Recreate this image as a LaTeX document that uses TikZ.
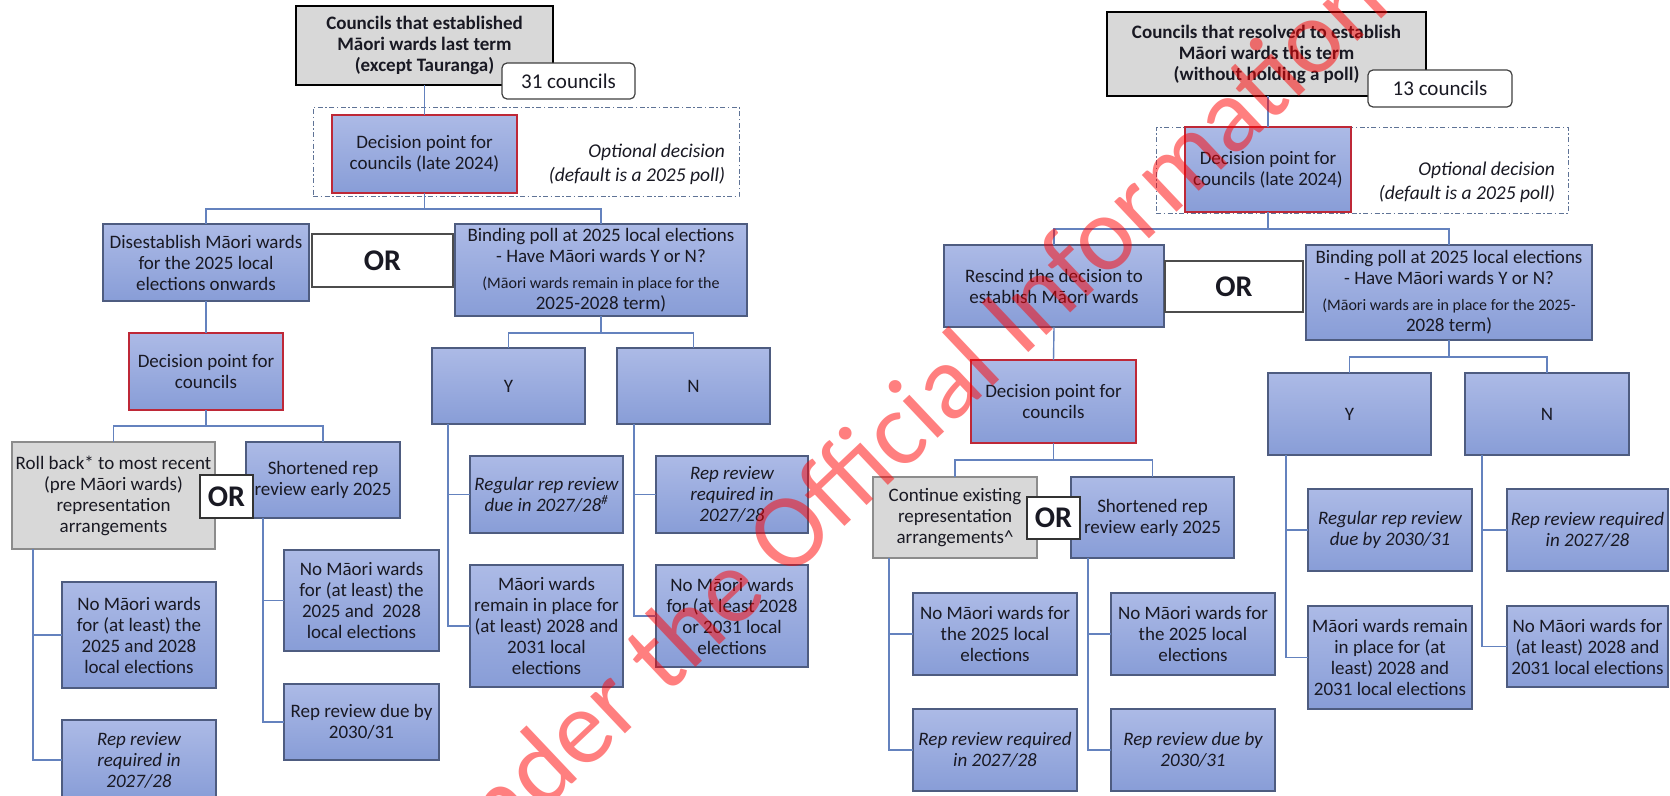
\documentclass[tikz,border=0pt]{standalone}
\usepackage{fontspec}
\setmainfont{Carlito}
\definecolor{btop}{RGB}{172,186,230}
\definecolor{bbot}{RGB}{136,157,215}
\definecolor{bborder}{RGB}{78,92,128}
\definecolor{dred}{RGB}{190,40,55}
\definecolor{gfill}{RGB}{216,216,216}
\definecolor{gborder}{RGB}{140,140,140}
\definecolor{conncol}{RGB}{100,130,190}
\definecolor{txt}{RGB}{25,25,35}
\definecolor{dashcol}{RGB}{95,115,150}
\newcommand\BX[7]{\node[#2, minimum width={#5-#3}, minimum height={#6-#4}] (#1) at ({(#3+#5)/2},{-(#4+#6)/2}) {#7};}
\begin{document}
\begin{tikzpicture}[x=1pt,y=1pt,
  base/.style={inner xsep=1pt, inner ysep=1pt, outer sep=0pt, align=center, text=txt, font=\fontsize{19}{21}\selectfont},
  bluebox/.style={base, draw=bborder, line width=1.2pt, top color=btop, bottom color=bbot},
  itbox/.style={bluebox, font=\fontsize{19}{21}\selectfont\itshape},
  decbox/.style={bluebox, draw=dred, line width=1.8pt},
  graybox/.style={base, draw=gborder, line width=1.2pt, fill=gfill},
  topbox/.style={base, draw=black, line width=2.6pt, fill=gfill, font=\fontsize{19}{21}\selectfont\bfseries},
  countbox/.style={base, draw=black!75, line width=1.2pt, fill=white, rounded corners=5pt, font=\fontsize{21}{24}\selectfont},
  orbox/.style={base, draw=black!70, line width=1.4pt, fill=white, font=\fontsize{30}{32}\selectfont\bfseries},
  orsmall/.style={orbox, draw=black!80, line width=1.2pt, inner sep=0pt},
  optbox/.style={draw=dashcol, line width=1pt, inner sep=0pt, outer sep=0pt, dash pattern=on 5pt off 2.5pt on 1.5pt off 2.5pt},
  opttext/.style={base, align=right, font=\fontsize{19.5}{24.5}\selectfont\itshape},
  conn/.style={draw=conncol, line width=1.4pt},
  wm/.style={text=red, text opacity=0.5, inner sep=0pt, outer sep=0pt, font=\fontsize{106}{106}\selectfont}
]
\useasboundingbox (0,0) rectangle (1670,-795);
\clip (0,0) rectangle (1670,-795);
\fill[white] (0,0) rectangle (1670,-795);

% ---------------- LEFT TREE ----------------
\BX{opt1}{optbox}{313}{107}{739}{196}{}
\BX{top1}{topbox}{296}{6}{553}{85}{Councils that established\\Māori wards last term\\(except Tauranga)}
\BX{cnt1}{countbox}{502}{63}{635}{99}{31 councils}
\BX{dp1}{decbox}{332}{115}{517}{193}{Decision point for\\councils (late 2024)}
\node[opttext, anchor=east] (ot1) at (726,-164.5) {Optional decision\\(default is a 2025 poll)};
\BX{dis}{bluebox}{103}{224}{309}{301}{Disestablish Māori wards\\for the 2025 local\\elections onwards}
\BX{or1}{orbox}{312}{234}{453}{287}{OR}
\BX{bind1}{bluebox}{455}{224}{747}{316}{Binding poll at 2025 local elections\\- Have Māori wards Y or N?\\[5pt]\fontsize{16}{17.5}\selectfont (Māori wards remain in place for the\\2025-2028 term)}
\BX{dp2}{decbox}{129}{333}{283}{410}{Decision point for\\councils}
\BX{y1}{bluebox}{432}{348}{585}{424}{Y}
\BX{n1}{bluebox}{617}{348}{770}{424}{N}
\BX{rb}{graybox}{12}{442}{215}{549}{Roll back* to most recent\\(pre Māori wards)\\representation\\arrangements}
\BX{sr1}{bluebox}{246}{442}{400}{518}{Shortened rep\\review early 2025}
\BX{ors1}{orsmall}{200}{475}{253}{518}{OR}
\BX{nm1}{bluebox}{62}{582}{216}{688}{No Māori wards\\for (at least) the\\2025 and 2028\\local elections}
\BX{rr1}{itbox}{62}{720}{216}{800}{Rep review\\required in\\2027/28}
\BX{nm2}{bluebox}{284}{550}{439}{651}{No Māori wards\\for (at least) the\\2025 and \ 2028\\local elections}
\BX{rd1}{bluebox}{284}{684}{439}{760}{Rep review due by\\2030/31}
\BX{yr1}{itbox}{470}{456}{623}{533}{Regular rep review\\due in 2027/28\textsuperscript{\#}}
\BX{ym1}{bluebox}{470}{565}{623}{687}{Māori wards\\remain in place for\\(at least) 2028 and\\2031 local\\elections}
\BX{nr1}{itbox}{656}{456}{808}{533}{Rep review\\required in\\2027/28}
\BX{nn1}{bluebox}{656}{565}{808}{667}{No Māori wards\\for (at least 2028\\or 2031 local\\elections}

\draw[conn] (top1.south) -- (dp1.north);
\draw[conn] (dp1.south) -- ++(0,-16) -| (dis.north);
\draw[conn] (dp1.south) -- ++(0,-16) -| (bind1.north);
\draw[conn] (bind1.south) -- ++(0,-17) -| (y1.north);
\draw[conn] (bind1.south) -- ++(0,-17) -| (n1.north);
\draw[conn] (dis.south) -- (dp2.north);
\draw[conn] (dp2.south) -- ++(0,-16) -| (rb.north);
\draw[conn] (dp2.south) -- ++(0,-16) -| (sr1.north);
\draw[conn] ([xshift=21pt]rb.south west) |- (nm1.west);
\draw[conn] ([xshift=21pt]rb.south west) |- (rr1.west);
\draw[conn] ([xshift=17pt]sr1.south west) |- (nm2.west);
\draw[conn] ([xshift=17pt]sr1.south west) |- (rd1.west);
\draw[conn] ([xshift=16pt]y1.south west) |- (yr1.west);
\draw[conn] ([xshift=16pt]y1.south west) |- (ym1.west);
\draw[conn] ([xshift=17pt]n1.south west) |- (nr1.west);
\draw[conn] ([xshift=17pt]n1.south west) |- (nn1.west);

% ---------------- RIGHT TREE ----------------
\BX{opt2}{optbox}{1156}{127}{1568}{213}{}
\BX{top2}{topbox}{1107}{12}{1426}{96}{Councils that resolved to establish\\Māori wards this term\\(without holding a poll)}
\BX{cnt2}{countbox}{1368}{70}{1512}{107}{13 councils}
\BX{dp3}{decbox}{1185}{127}{1351}{212}{Decision point for\\councils (late 2024)}
\node[opttext, anchor=east] (ot2) at (1556,-182.5) {Optional decision\\(default is a 2025 poll)};
\BX{res}{bluebox}{944}{245}{1164}{327}{Rescind the decision to\\establish Māori wards}
\BX{or2}{orbox}{1165}{261}{1303}{312}{OR}
\BX{bind2}{bluebox}{1306}{245}{1592}{340}{Binding poll at 2025 local elections\\- Have Māori wards Y or N?\\[5pt]\fontsize{16}{17.5}\selectfont (Māori wards are in place for the 2025-\\2028 term)}
\BX{dp4}{decbox}{971}{360}{1136}{443}{Decision point for\\councils}
\BX{y2}{bluebox}{1268}{373}{1431}{455}{Y}
\BX{n2}{bluebox}{1465}{373}{1629}{455}{N}
\BX{ce}{graybox}{873}{477}{1037}{558}{Continue existing\\representation\\arrangements\textasciicircum}
\BX{sr2}{bluebox}{1071}{477}{1234}{558}{Shortened rep\\review early 2025}
\BX{ors2}{orsmall}{1027}{497}{1080}{539}{OR}
\BX{nm3}{bluebox}{913}{593}{1077}{675}{No Māori wards for\\the 2025 local\\elections}
\BX{rr2}{itbox}{913}{709}{1077}{791}{Rep review required\\in 2027/28}
\BX{nm4}{bluebox}{1111}{593}{1275}{675}{No Māori wards for\\the 2025 local\\elections}
\BX{rd2}{itbox}{1111}{709}{1275}{791}{Rep review due by\\2030/31}
\BX{yr2}{itbox}{1308}{489}{1472}{571}{Regular rep review\\due by 2030/31}
\BX{ym2}{bluebox}{1308}{606}{1472}{709}{Māori wards remain\\in place for (at\\least) 2028 and\\2031 local elections}
\BX{nr2}{itbox}{1507}{489}{1668}{571}{Rep review required\\in 2027/28}
\BX{nn2}{bluebox}{1507}{606}{1668}{687}{No Māori wards for\\(at least) 2028 and\\2031 local elections}

\draw[conn] (top2.south -| dp3.north) -- (dp3.north);
\draw[conn] (dp3.south) -- ++(0,-17) -| (res.north);
\draw[conn] (dp3.south) -- ++(0,-17) -| (bind2.north);
\draw[conn] (bind2.south) -- ++(0,-17) -| (y2.north);
\draw[conn] (bind2.south) -- ++(0,-17) -| (n2.north);
\draw[conn] (res.south) -- (dp4.north);
\draw[conn] (dp4.south) -- ++(0,-17) -| (ce.north);
\draw[conn] (dp4.south) -- ++(0,-17) -| (sr2.north);
\draw[conn] ([xshift=16pt]ce.south west) |- (nm3.west);
\draw[conn] ([xshift=16pt]ce.south west) |- (rr2.west);
\draw[conn] ([xshift=17pt]sr2.south west) |- (nm4.west);
\draw[conn] ([xshift=17pt]sr2.south west) |- (rd2.west);
\draw[conn] ([xshift=18pt]y2.south west) |- (yr2.west);
\draw[conn] ([xshift=18pt]y2.south west) |- (ym2.west);
\draw[conn] ([xshift=17pt]n2.south west) |- (nr2.west);
\draw[conn] ([xshift=17pt]n2.south west) |- (nn2.west);

% ---------------- WATERMARK ----------------
\node[wm, rotate=43.4, anchor=mid east] (wmA) at (768.1,-595.8) {Released under the};
\node[wm, rotate=43.4, anchor=mid west] (wmB) at (785.5,-579.4) {Official Information Act};
\end{tikzpicture}
\end{document}
